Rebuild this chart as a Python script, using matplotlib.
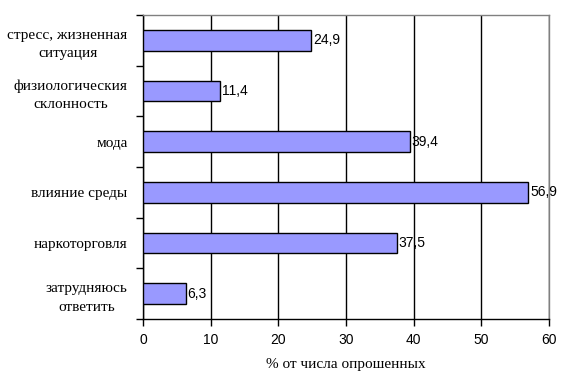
import numpy as np
import matplotlib
matplotlib.use("Agg")
import matplotlib.pyplot as plt
from matplotlib.ticker import FixedLocator, NullLocator

# Data
categories = ["стресс, жизненная\nситуация", "физиологическия\nсклонность", "мода",
              "влияние среды", "наркоторговля", "затрудняюсь\nответить"]
values = [24.9, 11.4, 39.4, 56.9, 37.5, 6.3]
value_labels = ["24,9", "11,4", "39,4", "56,9", "37,5", "6,3"]
xticks = [0, 10, 20, 30, 40, 50, 60]

fig = plt.figure(figsize=(5.69, 3.90), dpi=100)
ax = fig.add_axes([0.2513, 0.182, 0.7136, 0.7795])

y = np.arange(len(categories))
ax.barh(y, values, height=0.41, color="#9999FF", edgecolor="black", linewidth=1.0, zorder=3)

for yi, v, lab in zip(y, values, value_labels):
    ax.text(v + 0.3, yi, lab, va="center", ha="left", fontsize=10,
            family="Liberation Sans", zorder=4)

ax.set_ylim(len(categories) - 0.5, -0.5)
ax.set_xlim(0, 60)

ax.set_yticks(y)
ax.set_yticklabels(categories, family="Liberation Serif", fontsize=11,
                   multialignment="center", linespacing=1.55)
ax.tick_params(axis="y", which="major", length=0, pad=11)
ax.yaxis.set_minor_locator(FixedLocator(np.arange(-0.5, len(categories), 1)))
ax.tick_params(axis="y", which="minor", length=5, width=1, direction="out", color="black")

ax.set_xticks(xticks)
ax.set_xticklabels([str(t) for t in xticks], family="Liberation Sans", fontsize=10)
ax.tick_params(axis="x", length=5, width=1, direction="out", pad=5)
ax.xaxis.set_minor_locator(NullLocator())

ax.grid(axis="x", color="black", linewidth=1.0, zorder=0)
ax.set_axisbelow(True)

for side in ["left", "bottom"]:
    ax.spines[side].set_color("black")
    ax.spines[side].set_linewidth(1.0)
for side in ["top", "right"]:
    ax.spines[side].set_color("#808080")
    ax.spines[side].set_linewidth(1.0)

ax.set_xlabel("% от числа опрошенных", family="Liberation Serif", fontsize=11, labelpad=8)

fig.savefig("out.png", dpi=100)
